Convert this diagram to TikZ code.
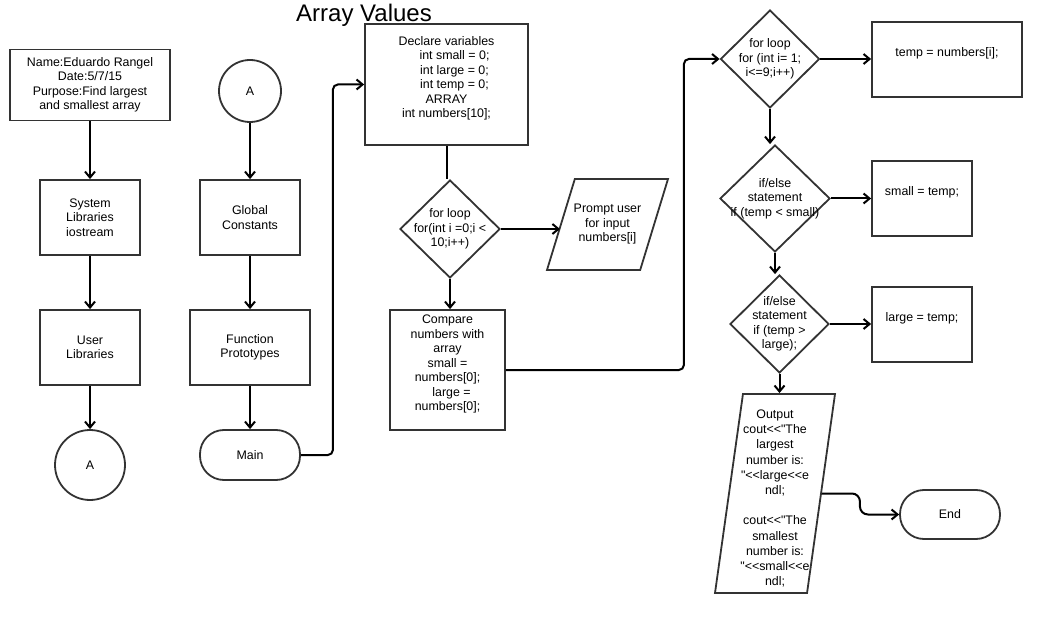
\documentclass[tikz,border=0pt]{standalone}
\usepackage{fontspec}
\newfontfamily\flowfont{Liberation Sans}
\usetikzlibrary{shapes.geometric,arrows.meta}

\tikzset{
  shape line/.style={draw=black!80, line width=1.8pt},
  proc/.style={shape line, rectangle, align=center, inner sep=2pt},
  term/.style={shape line, rectangle, rounded corners=24pt, minimum width=100pt, minimum height=49pt},
  conn/.style={shape line, circle, inner sep=0pt},
  decision/.style={shape line, diamond, inner sep=0pt, minimum width=100pt, minimum height=98pt},
  io/.style={shape line, trapezium, trapezium stretches body, inner sep=0pt, text height=#1, text depth=0pt},
  arr/.style={line width=2pt, -{Straight Barb[length=6pt,width=10pt]}},
  link/.style={line width=2pt}
}

\begin{document}
\begin{tikzpicture}[x=1pt,y=-1pt,
  every node/.style={font=\flowfont\fontsize{12.4}{14.5}\selectfont, text=black}]
    \useasboundingbox (0,0) rectangle (1047,628);

    \node (title) at (364,15) {\fontsize{24}{28}\selectfont Array Values};

    \node[proc, minimum width=160pt, minimum height=71pt] (name) at (90,85)
        {Name:Eduardo Rangel\\Date:5/7/15\\Purpose:Find largest\\and smallest array};
    \node[proc, minimum width=100pt, minimum height=75pt] (syslib) at (90,217.5)
        {System\\Libraries\\iostream};
    \node[proc, minimum width=100pt, minimum height=75pt] (userlib) at (90,347.5)
        {User\\Libraries};
    \node[conn, minimum size=70pt] (connA) at (90,465) {A};

    \node[conn, minimum size=62pt] (connB) at (250,91) {A};
    \node[proc, minimum width=100pt, minimum height=75pt] (glob) at (250,217.5)
        {Global\\Constants};
    \node[proc, minimum width=120pt, minimum height=75pt] (proto) at (250,347.5)
        {Function\\Prototypes};
    \node[term, minimum height=50pt] (main) at (250,455) {Main};

    \node[proc, minimum width=163pt, minimum height=121pt] (declare) at (446.5,84.5)
        {Declare variables\\\hspace*{16pt}int small = 0;\\\hspace*{16pt}int large = 0;\\\hspace*{16pt}int temp = 0;\\ARRAY\\int numbers[10];\\ \mbox{}};
    \node[decision, label={[align=center]center:{for loop\\for(int i =0;i {<}\\10;i++)}}] (loop1) at (450,229) {};
    \node[io=91pt, trapezium left angle=73, trapezium right angle=107, minimum width=121pt,
        label={[align=center]center:{Prompt user\\for input\\numbers[i]}}] (prompt) at (607.5,224.5) {};
    \node[proc, minimum width=115pt, minimum height=120pt] (compare) at (447.5,370)
        {Compare\\numbers with\\array\\small =\\numbers[0];\\\hspace*{8pt}large =\\numbers[0];\\ \mbox{}};

    \node[decision, minimum width=99pt, label={[align=center]center:{for loop\\for (int i= 1;\\i{<}=9;i++)}}] (loop2) at (770,59) {};
    \node[proc, minimum width=150pt, minimum height=75pt] (temp) at (947,59.5) {temp = numbers[i];\\ \mbox{}};
    \node[decision, minimum width=110pt, minimum height=107pt,
        label={[align=center]center:{if/else\\statement\\if (temp {<} small)}}] (ife1) at (775,198.5) {};
    \node[proc, minimum width=100pt, minimum height=75pt] (small) at (922,198.5) {small = temp;\\ \mbox{}};
    \node[decision, minimum width=99pt, label={[align=center]center:{if/else\\statement\\if (temp {>}\\large);}}] (ife2) at (779.5,324) {};
    \node[proc, minimum width=100pt, minimum height=75pt] (large) at (922,324.5) {large = temp;\\ \mbox{}};
    \node[io=199pt, trapezium left angle=82, trapezium right angle=98, minimum width=120pt,
        label={[align=center, yshift=-5pt, font=\flowfont\fontsize{12.4}{15.2}\selectfont]center:{Output\\cout{<}{<}"The\\largest\\number is:\\"{<}{<}large{<}{<}e\\ndl;\\ \mbox{}\\cout{<}{<}"The\\smallest\\number is:\\"{<}{<}small{<}{<}e\\ndl;}}] (output) at (775,493.5) {};
    \node[term] (end) at (950,514.5) {End};

    \draw[arr] (name) -- (syslib);
    \draw[arr] (syslib) -- (userlib);
    \draw[arr] (userlib) -- (connA);
    \draw[arr] (connB) -- (glob);
    \draw[arr] (glob) -- (proto);
    \draw[arr] (proto) -- (main);
    \draw[arr, rounded corners=5pt] (main.east) -- ++(32,0) |- (declare.west);
    \draw[link] (declare.south) -- (declare.south |- loop1.north);
    \draw[arr] (loop1.east) -- (loop1.east -| prompt.west);
    \draw[arr] (loop1.south) -- (loop1.south |- compare.north);
    \draw[arr, rounded corners=5pt] (compare.east) -- ++(178,0) |- (loop2.west);
    \draw[arr] (loop2.east) -- (temp.west |- loop2.east);
    \draw[arr] (loop2.south) -- (loop2.south |- ife1.north);
    \draw[arr] (ife1.east) -- (small.west |- ife1.east);
    \draw[arr] (ife1.south) -- (ife1.south |- ife2.north);
    \draw[arr] (ife2.east) -- (large.west |- ife2.east);
    \draw[arr] (ife2.south) -- (ife2.south |- output.north);
    \draw[arr, rounded corners=8pt] (output.east) -- ++(38,0) |- (end.west);
\end{tikzpicture}
\end{document}
